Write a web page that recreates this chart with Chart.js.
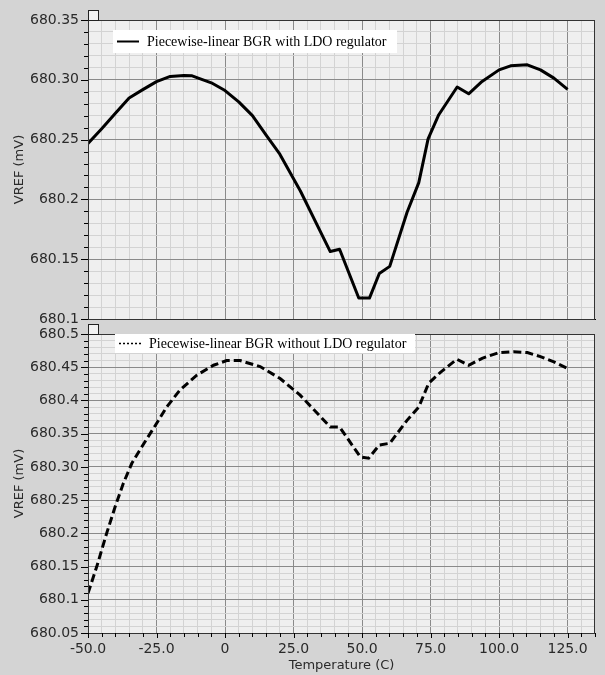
<!DOCTYPE html>
<html>
<head>
<meta charset="utf-8">
<title>VREF vs Temperature</title>
<script src="https://cdn.jsdelivr.net/npm/chart.js@4.4.1/dist/chart.umd.min.js"></script>
<style>
	html, body { margin: 0; padding: 0; background: #d4d4d4; }
	#wrap { position: relative; width: 605px; height: 675px; overflow: hidden; }
	#top_box { position: absolute; left: 0; top: 0; width: 605px; height: 325px; }
	#bottom_box { position: absolute; left: 0; top: 322px; width: 605px; height: 353px; }
</style>
</head>
<body>
<div id="wrap">
	<div id="top_box"><canvas id="chart-top" width="605" height="325"></canvas></div>
	<div id="bottom_box"><canvas id="chart-bottom" width="605" height="353"></canvas></div>
</div>
<script>
// 数据
var topTemps = [-50, -45, -40, -35, -30, -25, -20, -15, -12, -5, 0, 5, 10, 15, 20, 27.5,
	38.4, 41.8, 48.8, 52.7, 56.3, 60.1, 66.4, 70.7, 74.1, 78, 84.7, 88.9, 93.8, 100, 104.2, 110.3, 115.1, 120, 125];
var topVref = [680.2467, 680.259, 680.272, 680.2848, 680.2918, 680.2985, 680.3028, 680.3035, 680.3033, 680.2975,
	680.291, 680.2815, 680.270, 680.2538, 680.2378, 680.207, 680.1564, 680.1583, 680.1175, 680.1175, 680.138,
	680.144, 680.189, 680.214, 680.2506, 680.2708, 680.294, 680.2883, 680.2986, 680.3083, 680.3117, 680.3125,
	680.3083, 680.3014, 680.292];

var bottomTemps = [-50, -46.8, -43.2, -40.1, -37.1, -34, -30.4, -25.5, -21.3, -16.4, -10.3, -4.2, 0.6, 5.5, 12.8,
	20.1, 27.4, 38.4, 41.8, 49.4, 52.4, 56.3, 60.1, 66.4, 70.7, 74.3, 78.5, 84.6, 88.9, 93.8, 99.9, 105.3, 110.3,
	115.1, 120, 125];
var bottomVref = [680.1097, 680.15, 680.2, 680.24, 680.2753, 680.3054, 680.33, 680.362, 680.390, 680.416, 680.438,
	680.453, 680.46, 680.46, 680.451, 680.433, 680.408, 680.36, 680.36, 680.315, 680.313, 680.333, 680.3355, 680.37,
	680.39, 680.4258, 680.442, 680.462, 680.453, 680.4634, 680.472, 680.4734, 680.472, 680.466, 680.458, 680.448];

var seriesLabels = ['Piecewise-linear BGR with LDO regulator', 'Piecewise-linear BGR without LDO regulator'];

// 刻度
var xTickValues = [-50, -25, 0, 25, 50, 75, 100, 125];
var xTickLabels = ['-50.0', '-25.0', '0', '25.0', '50.0', '75.0', '100.0', '125.0'];
var topTickValues = [680.1, 680.15, 680.2, 680.25, 680.3, 680.35];
var topTickLabels = ['680.1', '680.15', '680.2', '680.25', '680.30', '680.35'];
var bottomTickValues = [680.05, 680.1, 680.15, 680.2, 680.25, 680.3, 680.35, 680.4, 680.45, 680.5];
var bottomTickLabels = ['680.05', '680.1', '680.15', '680.2', '680.25', '680.30', '680.35', '680.4', '680.45', '680.5'];

var MAJOR = '#8a8a8a';
var MINOR = '#d3d3d3';
var TEXT = '#2a2a2a';

function findIdx(list, v) {
	for (var i = 0; i < list.length; i++) {
		if (Math.abs(list[i] - v) < 1e-6) return i;
	}
	return -1;
}

function toPoints(xs, ys) {
	var pts = [];
	for (var i = 0; i < xs.length; i++) pts.push({x: xs[i], y: ys[i]});
	return pts;
}

// no automatic label padding, the plot box is placed by layout.padding only
function noPad(s) {
	s.paddingTop = 0;
	s.paddingBottom = 0;
	s.paddingLeft = 0;
	s.paddingRight = 0;
}

// 面板装饰: 背景, 边框, 小方块, 刻度线, 图例
var panelDecor = {
	id: 'panelDecor',
	beforeDraw: function(chart) {
		var a = chart.chartArea, c = chart.ctx;
		c.save();
		c.fillStyle = '#efefef';
		c.fillRect(a.left, a.top, a.right - a.left, a.bottom - a.top);
		c.restore();
	},
	afterDraw: function(chart, args, opts) {
		var a = chart.chartArea, c = chart.ctx;
		c.save();
		// frame
		c.strokeStyle = '#333';
		c.lineWidth = 1;
		c.strokeRect(a.left + 0.5, a.top + 0.5, a.right - a.left - 1, a.bottom - a.top);
		// small square above the plot
		c.fillStyle = '#f2f2f2';
		c.fillRect(a.left, a.top - 10, 10, 10);
		c.strokeStyle = '#222';
		c.strokeRect(a.left + 0.5, a.top - 9.5, 10, 10);
		// y tick marks
		c.strokeStyle = '#000';
		var ys = chart.scales.y;
		ys.ticks.forEach(function(t) {
			var py = Math.round(ys.getPixelForValue(t.value)) + 0.5;
			var len = findIdx(opts.yTicks, t.value) >= 0 ? 7 : 4;
			c.beginPath();
			c.moveTo(a.left - len, py);
			c.lineTo(a.left, py);
			c.stroke();
		});
		if (opts.xMarks) {
			var xs = chart.scales.x;
			xs.ticks.forEach(function(t) {
				var px = Math.round(xs.getPixelForValue(t.value)) + 0.5;
				var len = t.value % 25 === 0 ? 5 : 4;
				c.beginPath();
				c.moveTo(px, a.bottom);
				c.lineTo(px, a.bottom + len);
				c.stroke();
			});
		}
		// legend
		var b = opts.box;
		c.fillStyle = '#ffffff';
		c.fillRect(b.x, b.y, b.w, b.h);
		var ly = b.y + b.h / 2;
		c.strokeStyle = '#000';
		if (opts.dotted) {
			c.lineWidth = 1.5;
			c.setLineDash([2, 2]);
		} else {
			c.lineWidth = 2;
		}
		c.beginPath();
		c.moveTo(b.x + 4, ly);
		c.lineTo(b.x + 26, ly);
		c.stroke();
		c.setLineDash([]);
		c.fillStyle = '#000';
		c.font = '14px "Liberation Serif", "Times New Roman", serif';
		c.textBaseline = 'middle';
		c.fillText(chart.data.datasets[0].label, b.x + 34, ly + 1);
		c.restore();
	}
};

function makeOptions(yMin, yMax, yTicks, yLabels, showX, decor) {
	return {
		responsive: false,
		animation: false,
		events: [],
		layout: {padding: showX ? {left: 0, right: 10, top: 12, bottom: 0} : {left: 0, right: 10, top: 20, bottom: 6}},
		plugins: {
			legend: {display: false},
			tooltip: {enabled: false},
			panelDecor: decor
		},
		scales: {
			x: {
				type: 'linear',
				min: -50,
				max: 135,
				afterFit: function(s) { s.height = showX ? 42 : 0; noPad(s); },
				ticks: {
					display: showX,
					stepSize: 5,
					autoSkip: false,
					maxRotation: 0,
					padding: 8,
					color: TEXT,
					font: {family: '"DejaVu Sans", sans-serif', size: 14},
					callback: function(v) {
						var i = xTickValues.indexOf(v);
						return i >= 0 ? xTickLabels[i] : '';
					}
				},
				grid: {
					drawTicks: false,
					color: function(ctx) {
						return ctx.tick && ctx.tick.value % 25 === 0 ? MAJOR : MINOR;
					}
				},
				border: {color: '#000'},
				title: {
					display: showX,
					text: 'Temperature (C)',
					color: TEXT,
					font: {family: '"DejaVu Sans", sans-serif', size: 13},
					padding: {top: 0, bottom: 2}
				}
			},
			y: {
				type: 'linear',
				min: yMin,
				max: yMax,
				afterFit: function(s) { s.width = 88; noPad(s); },
				ticks: {
					stepSize: 0.01,
					autoSkip: false,
					padding: 9,
					color: TEXT,
					font: {family: '"DejaVu Sans", sans-serif', size: 14},
					callback: function(v) {
						var i = findIdx(yTicks, v);
						return i >= 0 ? yLabels[i] : '';
					}
				},
				grid: {
					drawTicks: false,
					color: function(ctx) {
						return ctx.tick && findIdx(yTicks, ctx.tick.value) >= 0 ? MAJOR : MINOR;
					}
				},
				border: {color: '#000'},
				title: {
					display: true,
					text: 'VREF (mV)',
					color: TEXT,
					font: {family: '"DejaVu Sans", sans-serif', size: 13},
					padding: {top: 12, bottom: 0}
				}
			}
		}
	};
}

var topChart = new Chart(document.getElementById('chart-top').getContext('2d'), {
	type: 'line',
	data: {
		datasets: [{
			label: seriesLabels[0],
			data: toPoints(topTemps, topVref),
			borderColor: '#000',
			borderWidth: 3,
			pointRadius: 0,
			tension: 0,
			borderJoinStyle: 'round',
			fill: false
		}]
	},
	options: makeOptions(680.1, 680.35, topTickValues, topTickLabels, false,
		{box: {x: 113, y: 30, w: 284, h: 23}, dotted: false, yTicks: topTickValues, xMarks: false}),
	plugins: [panelDecor]
});

var bottomChart = new Chart(document.getElementById('chart-bottom').getContext('2d'), {
	type: 'line',
	data: {
		datasets: [{
			label: seriesLabels[1],
			data: toPoints(bottomTemps, bottomVref),
			borderColor: '#000',
			borderWidth: 3,
			borderDash: [8, 4],
			pointRadius: 0,
			tension: 0,
			fill: false
		}]
	},
	options: makeOptions(680.05, 680.5, bottomTickValues, bottomTickLabels, true,
		{box: {x: 115, y: 12, w: 300, h: 19}, dotted: true, yTicks: bottomTickValues, xMarks: true}),
	plugins: [panelDecor]
});
</script>
</body>
</html>
